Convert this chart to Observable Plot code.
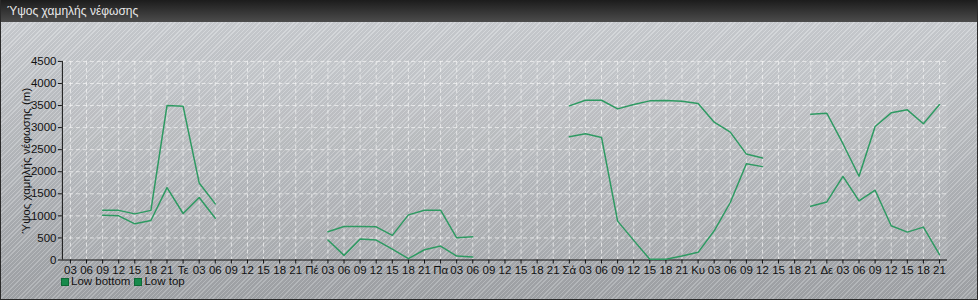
<!DOCTYPE html>
<html>
<head>
<meta charset="utf-8">
<script src="https://cdn.jsdelivr.net/npm/d3@7"></script>
<script src="https://cdn.jsdelivr.net/npm/@observablehq/plot@0.6"></script>
<style>
  html, body { margin: 0; padding: 0; background: #fff; }
  #chart {
    position: relative; width: 978px; height: 300px; box-sizing: border-box;
    border: 1px solid #2a2a2a; border-top: none; overflow: hidden;
    font-family: "Liberation Sans", Arial, sans-serif;
    background:
      repeating-linear-gradient(-45deg, rgba(255,255,255,0.18) 0px, rgba(255,255,255,0.18) 1px, rgba(0,0,0,0.04) 1px, rgba(0,0,0,0.04) 3px),
      linear-gradient(#d0d3d7, #a2a5a9);
  }
  #title {
    height: 22px; line-height: 22px; padding-left: 6px; color: #e8e8e8; font-size: 12px;
    background: linear-gradient(#1c1c1c, #4c4c4c);
  }
  #plot { position: absolute; left: 0; top: 22px; }
  #legend { position: absolute; left: 60px; top: 275px; font-size: 11.5px; color: #111; display: flex; gap: 4px; }
  #legend span.item { display: flex; align-items: center; }
  #legend i { display: inline-block; width: 6px; height: 6px; background: #178a4c; margin-right: 2px; margin-top: 2px; border: 0.5px solid #0e6a36; }
</style>
</head>
<body>
<div id="chart">
  <div id="title">Ύψος χαμηλής νέφωσης</div>
  <div id="plot"></div>
  <div id="legend"></div>
</div>
<script>
const seriesNames = ["Low bottom", "Low top"];
const dayLabels = ["Τε", "Πέ", "Πα", "Σά", "Κυ", "Δε"];
const hourLabels = ["03", "06", "09", "12", "15", "18", "21"];
const yTicks = [0, 500, 1000, 1500, 2000, 2500, 3000, 3500, 4000, 4500];
// hours since Tuesday 00:00
const hours = [9, 12, 15, 18, 21, 24, 27, 30, 33, 36, 39, 42, 45, 48,
  51, 54, 57, 60, 63, 66, 69, 72, 75, 78, 81, 84, 87, 90, 93,
  96, 99, 102, 105, 108, 111, 114, 117, 120, 123, 126, 129, 132, 135, 138,
  141, 144, 147, 150, 153, 156, 159, 162, 165];
const lowBottom = [1016, 1001, 820, 896, 1641, 1054, 1415, 948,
  null, null, null, null, null, null,
  452, 105, 474, 452, 248, 30, 233, 316, 90, 68,
  null, null, null, null, null,
  2793, 2861, 2777, 881, 445, 16, 16, 90, 174, 662, 1303, 2183, 2116,
  null, null,
  1219, 1316, 1897, 1339, 1581, 775, 632, 745, 120];
const lowTop = [1125, 1125, 1045, 1125, 3500, 3485, 1746, 1272,
  null, null, null, null, null, null,
  639, 761, 761, 752, 558, 1023, 1129, 1129, 504, 527,
  null, null, null, null, null,
  3493, 3620, 3620, 3425, 3522, 3606, 3613, 3597, 3545, 3123, 2897, 2400, 2310,
  null, null,
  3304, 3326, 2635, 1897, 3026, 3335, 3403, 3087, 3522];

const lineColor = "#2e9a62";
const rows = [];
hours.forEach((h, i) => {
  rows.push({h, v: lowBottom[i], s: seriesNames[0]});
  rows.push({h, v: lowTop[i], s: seriesNames[1]});
});
const xTicks = d3.range(3, 166, 3);
const fmtX = h => h % 24 === 0 ? dayLabels[h / 24 - 1] : hourLabels[(h % 24) / 3 - 1];

const chart = Plot.plot({
  width: 978, height: 256,
  marginLeft: 61, marginRight: 30, marginTop: 39, marginBottom: 18,
  style: {fontFamily: "'Liberation Sans', Arial, sans-serif", fontSize: "11px", color: "#111", background: "transparent", overflow: "visible"},
  x: {domain: [1.5, 166.5]},
  y: {domain: [0, 4500]},
  marks: [
    Plot.frame({fill: "white", fillOpacity: 0.07, stroke: null}),
    Plot.ruleX(xTicks, {stroke: "#f4f4f4", strokeOpacity: 0.75, strokeDasharray: "4,3"}),
    Plot.ruleY(yTicks.filter(d => d > 0), {stroke: "#f4f4f4", strokeOpacity: 0.75, strokeDasharray: "4,3"}),
    Plot.axisX({ticks: xTicks, tickFormat: fmtX, tickSize: 4, tickPadding: 2, label: null, fontSize: 11.5}),
    Plot.axisY({ticks: yTicks, tickFormat: d => String(d), tickSize: 4, tickPadding: 2, label: "Ύψος χαμηλής νέφωσης (m)", labelAnchor: "center", labelArrow: "none", labelOffset: 41, fontSize: 11.5}),
    Plot.ruleY([0], {stroke: "#111"}),
    Plot.ruleX([1.5], {stroke: "#111"}),
    Plot.line(rows, {x: "h", y: "v", z: "s", stroke: lineColor, strokeWidth: 1.5})
  ]
});
document.getElementById("plot").appendChild(chart);

const legend = document.getElementById("legend");
seriesNames.forEach(n => {
  const s = document.createElement("span");
  s.className = "item";
  s.innerHTML = "<i></i>" + n;
  legend.appendChild(s);
});
</script>
</body>
</html>
